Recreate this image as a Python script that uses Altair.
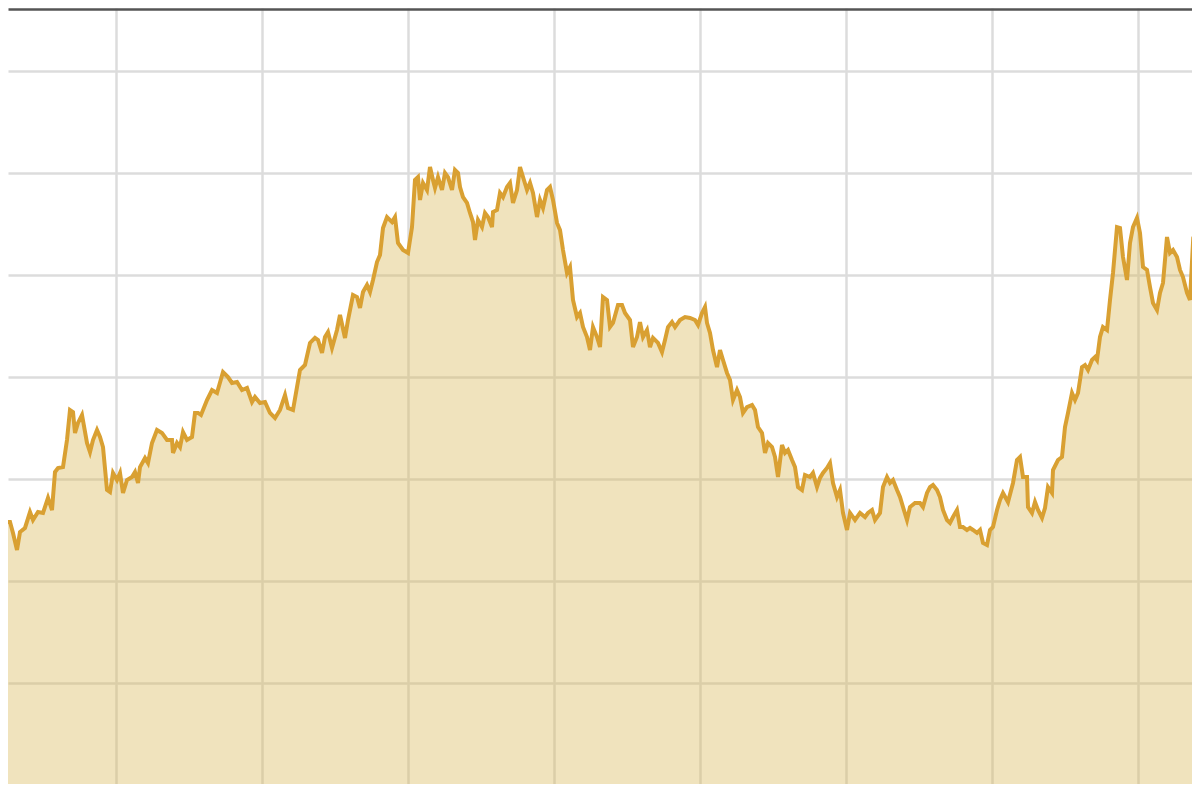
import altair as alt
import pandas as pd

# Day index (days since the series origin) and value
DAYS = [
    75, 87.5, 100, 107.5, 117.5, 125, 137.5, 150, 157.5, 170,
    182.5, 195, 205, 212.5, 220, 232.5, 242.5, 250, 257.5, 262.5,
    270, 280, 292.5, 300, 307.5, 317.5, 325, 332.5, 342.5, 350,
    357.5, 367.5, 375, 382.5, 392.5, 405, 412.5, 420, 425, 437.5,
    445, 455, 467.5, 480, 492.5, 505, 507.5, 517.5, 525, 532.5,
    542.5, 555, 562.5, 570, 577.5, 592.5, 605, 617.5, 632.5, 645,
    655, 667.5, 680, 692.5, 705, 712.5, 725, 737.5, 750, 762.5,
    775, 787.5, 795, 807.5, 817.5, 825, 837.5, 850, 862.5, 870,
    880, 887.5, 895, 905, 917.5, 925, 937.5, 945, 957.5, 967.5,
    975, 982.5, 992.5, 1000, 1007.5, 1017.5, 1025, 1032.5, 1042.5, 1055,
    1062.5, 1070, 1082.5, 1095, 1105, 1112.5, 1120, 1125, 1132.5, 1142.5,
    1150, 1157.5, 1162.5, 1170, 1180, 1187.5, 1195, 1205, 1212.5, 1220,
    1225, 1232.5, 1242.5, 1250, 1257.5, 1262.5, 1270, 1280, 1287.5, 1295,
    1305, 1307.5, 1317.5, 1325, 1332.5, 1342.5, 1350, 1357.5, 1367.5, 1375,
    1382.5, 1392.5, 1400, 1407.5, 1417.5, 1425, 1432.5, 1442.5, 1450, 1457.5,
    1467.5, 1475, 1482.5, 1492.5, 1500, 1507.5, 1517.5, 1525, 1532.5, 1542.5,
    1550, 1557.5, 1567.5, 1575, 1582.5, 1592.5, 1600, 1607.5, 1620, 1630,
    1637.5, 1650, 1657.5, 1667.5, 1675, 1682.5, 1692.5, 1700, 1707.5, 1720,
    1730, 1737.5, 1745, 1755, 1762.5, 1775, 1787.5, 1800, 1812.5, 1820,
    1830, 1837.5, 1842.5, 1850, 1857.5, 1867.5, 1875, 1882.5, 1892.5, 1900,
    1907.5, 1917.5, 1925, 1932.5, 1942.5, 1955, 1962.5, 1970, 1980, 1987.5,
    1995, 2005, 2012.5, 2020, 2030, 2037.5, 2045, 2055, 2062.5, 2070,
    2080, 2087.5, 2100, 2107.5, 2117.5, 2125, 2132.5, 2142.5, 2150, 2157.5,
    2167.5, 2175, 2182.5, 2192.5, 2200, 2212.5, 2225, 2237.5, 2245, 2255,
    2262.5, 2275, 2282.5, 2292.5, 2300, 2307.5, 2317.5, 2325, 2332.5, 2342.5,
    2350, 2362.5, 2375, 2382.5, 2392.5, 2400, 2407.5, 2417.5, 2425, 2432.5,
    2442.5, 2450, 2457.5, 2467.5, 2475, 2482.5, 2492.5, 2500, 2507.5, 2517.5,
    2525, 2532.5, 2542.5, 2550, 2557.5, 2567.5, 2575, 2582.5, 2595, 2607.5,
    2617.5, 2625, 2632.5, 2642.5, 2645, 2655, 2662.5, 2670, 2680, 2687.5,
    2695, 2705, 2707.5, 2720, 2730, 2737.5, 2745, 2755, 2762.5, 2770,
    2780, 2787.5, 2795, 2805, 2812.5, 2817.5, 2825, 2832.5, 2842.5, 2850,
    2857.5, 2867.5, 2875, 2882.5, 2892.5, 2900, 2907.5, 2917.5, 2925, 2932.5,
    2942.5, 2950, 2957.5, 2967.5, 2975, 2982.5, 2992.5, 3000, 3007.5, 3017.5,
    3025, 3032.5, 3042.5, 3050, 3057.5, 3067.5, 3075,
]

VALUES = [
    552.8, 557.7, 557.7, 547.0, 530.3, 547.9, 551.9, 567.5, 559.7, 567.5,
    566.6, 581.3, 569.5, 606.7, 610.7, 611.6, 638.1, 667.5, 665.5, 645.0,
    654.8, 662.6, 635.2, 626.3, 638.1, 647.9, 641.0, 631.2, 589.1, 587.1,
    605.8, 598.9, 605.8, 586.2, 598.9, 601.8, 606.7, 596.0, 611.6, 620.5,
    615.6, 635.2, 647.9, 645.0, 638.1, 638.1, 625.4, 635.2, 631.2, 645.9,
    638.1, 641.0, 664.6, 664.6, 662.6, 677.3, 687.1, 684.2, 704.7, 699.8,
    694.0, 694.9, 687.1, 689.1, 675.3, 680.2, 674.4, 675.3, 664.6, 659.7,
    667.5, 682.2, 669.5, 667.5, 690.0, 706.7, 711.6, 733.2, 738.1, 736.1,
    723.4, 739.0, 743.9, 728.3, 745.9, 760.6, 738.1, 755.7, 780.2, 778.2,
    767.5, 783.1, 790.0, 783.1, 794.9, 812.5, 819.4, 845.9, 856.6, 851.7,
    856.6, 831.2, 824.3, 821.4, 846.8, 892.9, 895.8, 873.3, 890.0, 883.1,
    905.6, 892.9, 885.1, 895.8, 883.1, 899.8, 895.8, 883.1, 902.7, 899.8,
    886.0, 876.2, 870.4, 860.6, 851.7, 834.1, 853.7, 846.8, 860.6, 856.6,
    846.8, 861.5, 863.5, 880.2, 876.2, 886.0, 890.0, 870.4, 883.1, 905.6,
    895.8, 883.1, 890.0, 880.2, 856.6, 873.3, 865.5, 883.1, 886.0, 873.3,
    850.8, 843.9, 824.3, 801.8, 807.6, 775.3, 758.6, 762.6, 748.8, 739.0,
    726.3, 748.8, 739.0, 729.2, 778.2, 775.3, 748.8, 752.8, 770.4, 770.4,
    762.6, 755.7, 729.2, 739.0, 753.7, 739.0, 745.9, 729.2, 738.1, 733.2,
    724.3, 736.1, 748.8, 753.7, 748.8, 755.7, 758.6, 757.7, 755.7, 750.8,
    762.6, 768.4, 752.8, 743.0, 726.3, 709.6, 726.3, 716.5, 703.8, 696.9,
    677.3, 687.1, 680.2, 664.6, 670.4, 672.4, 667.5, 650.8, 645.0, 625.4,
    635.2, 631.2, 621.4, 601.8, 633.2, 625.4, 628.3, 618.5, 611.6, 592.0,
    589.1, 603.8, 601.8, 605.8, 592.0, 600.9, 605.8, 610.7, 615.6, 596.0,
    582.2, 589.1, 566.6, 549.9, 566.6, 559.7, 566.6, 562.6, 566.6, 569.5,
    559.7, 566.6, 592.0, 601.8, 596.0, 598.9, 589.1, 582.2, 572.4, 559.7,
    572.4, 576.4, 576.4, 572.4, 586.2, 592.0, 594.0, 589.1, 582.2, 569.5,
    559.7, 556.8, 562.6, 569.5, 552.8, 552.8, 549.9, 551.9, 549.9, 547.0,
    549.9, 537.2, 535.2, 549.9, 552.8, 569.5, 579.3, 586.2, 577.3, 596.0,
    618.5, 621.4, 601.8, 601.8, 572.4, 566.6, 577.3, 569.5, 561.7, 571.5,
    592.0, 586.2, 608.7, 618.5, 621.4, 650.8, 664.6, 684.2, 677.3, 684.2,
    709.6, 711.6, 706.7, 716.5, 719.4, 716.5, 739.0, 748.8, 745.9, 775.3,
    801.8, 846.8, 845.9, 817.4, 794.9, 831.2, 846.8, 855.7, 841.0, 807.6,
    804.7, 788.0, 772.4, 765.5, 782.2, 792.0, 837.0, 821.4, 824.3, 817.4,
    804.7, 797.8, 782.2, 775.3, 831.2, 824.3, 821.4,
]

X_GRID = [365, 730, 1095, 1460, 1825, 2190, 2555, 2920]
Y_GRID = [400, 500, 600, 700, 800, 900, 1000]

df = pd.DataFrame({"day": DAYS, "value": VALUES})

x_enc = alt.X(
    "day:Q",
    scale=alt.Scale(domain=[95, 3055], nice=False, zero=False),
    axis=alt.Axis(
        orient="top", values=X_GRID, labels=False, ticks=False, title=None,
        domain=True, domainColor="#555555", domainWidth=2.5, offset=-1,
        grid=True, gridColor="#dcdcdc", gridWidth=2.5,
    ),
)
y_enc = alt.Y(
    "value:Q",
    scale=alt.Scale(domain=[300.98, 1061.46], nice=False, zero=False),
    axis=alt.Axis(
        values=Y_GRID, labels=False, ticks=False, title=None, domain=False,
        grid=True, gridColor="#dcdcdc", gridWidth=2.5,
    ),
)

area = alt.Chart(df).mark_area(color="#dab959", fillOpacity=0.4, clip=True).encode(
    x=x_enc, y=y_enc
)
line = alt.Chart(df).mark_line(color="#d9a032", strokeWidth=4, clip=True).encode(
    x="day:Q", y="value:Q"
)

chart = (
    alt.layer(area, line)
    .properties(width=1184, height=776, autosize=alt.AutoSizeParams(type="none"), padding=0)
    .configure_view(strokeWidth=0)
)

chart.save("out.html", embed_options={"renderer": "svg", "actions": False})
